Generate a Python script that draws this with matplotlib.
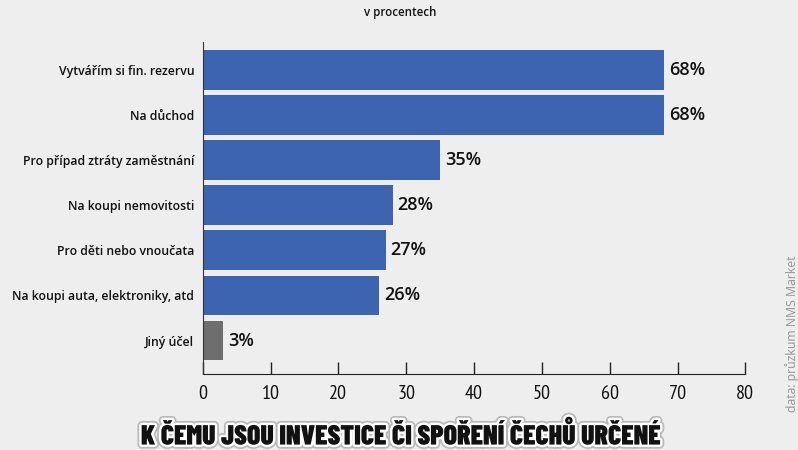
import numpy as np
import matplotlib.pyplot as plt
import matplotlib.patheffects as pe

# data
categories = ["Vytvářím si fin. rezervu", "Na důchod", "Pro případ ztráty zaměstnání",
              "Na koupi nemovitosti", "Pro děti nebo vnoučata",
              "Na koupi auta, elektroniky, atd", "Jiný účel"]
values = [68, 68, 35, 28, 27, 26, 3]
bar_colors = ["#3d64b1"] * 6 + ["#6e6e6e"]
xticks = [0, 10, 20, 30, 40, 50, 60, 70, 80]

plt.rcParams['font.family'] = ['Open Sans', 'DejaVu Sans']
narrow = ["PT Sans Narrow", "DejaVu Sans"]

fig = plt.figure(figsize=(7.98, 4.5), dpi=100)
fig.patch.set_facecolor("#eeeeee")
ax = fig.add_axes([0.254, 0.170, 0.680, 0.737])
ax.set_facecolor("none")

y = np.arange(len(categories))
ax.barh(y, values, height=0.88, color=bar_colors)
for yi, v in zip(y, values):
    ax.text(v + 0.7, yi, f"{v}%", va="center", ha="left", fontsize=13,
            fontweight="semibold", color="#111111")

ax.set_xlim(0, 80)
ax.set_ylim(len(categories) - 1 + 0.73, -0.62)
ax.set_yticks(y)
ax.set_yticklabels(categories, fontsize=8.8, fontweight="semibold", color="#111111")
ax.tick_params(axis="y", length=0, pad=6)
ax.set_xticks(xticks)
ax.set_xticklabels([str(t) for t in xticks], fontsize=14.5, family=narrow, color="#111111")
ax.tick_params(axis="x", direction="in", length=9, width=1, color="#222222", pad=8)
for s in ["top", "right"]:
    ax.spines[s].set_visible(False)
ax.spines["left"].set_color("#333333")
ax.spines["bottom"].set_color("#222222")

fig.text(0.501, 0.972, "v procentech", ha="center", va="center", fontsize=8.3,
         fontweight="semibold", color="#111111")

t = fig.text(0.502, 0.033, "K ČEMU JSOU INVESTICE ČI SPOŘENÍ ČECHŮ URČENÉ", ha="center",
             va="center", fontsize=20, fontweight=900,
             family=["Barlow Condensed", "DejaVu Sans"], color="#111111")
t.set_path_effects([pe.Stroke(linewidth=6, foreground="#777777", alpha=0.45),
                    pe.Stroke(linewidth=3.5, foreground="white"), pe.Normal()])

fig.text(0.992, 0.433, "data: průzkum NMS Market", rotation=90, ha="center", va="top",
         fontsize=8.8, color="#959595")

fig.savefig("out.png", dpi=100, facecolor=fig.get_facecolor())
